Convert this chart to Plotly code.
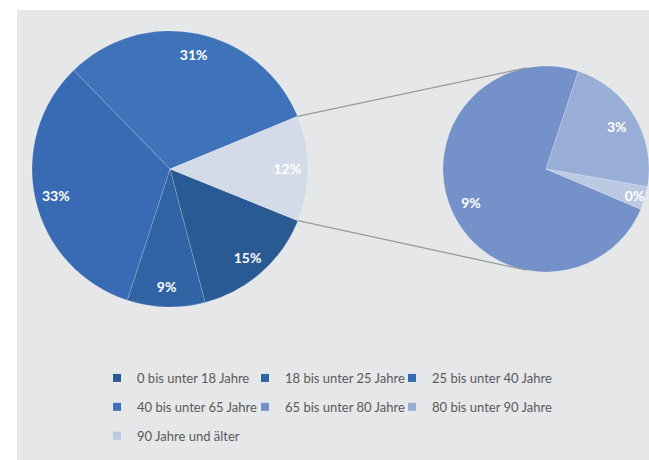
import math
import plotly.graph_objects as go

W, H = 649, 460

# data (share of population, %)
main_labels = ["0 bis unter 18 Jahre", "18 bis unter 25 Jahre",
               "25 bis unter 40 Jahre", "40 bis unter 65 Jahre"]
main_values = [14.8, 9.1, 32.7, 31.05]
sub_labels = ["65 bis unter 80 Jahre", "80 bis unter 90 Jahre", "90 Jahre und älter"]
sub_values = [9.1, 2.8, 0.45]

main_colors = ["#2A5A93", "#3064A5", "#386BB3", "#3E72B9"]
sub_colors = ["#7591C9", "#99AED7", "#BCC9E3"]
other_color = "#D3DAE8"

other_value = sum(sub_values)
total = sum(main_values) + other_value


def pct(v):
    return f"{round(v / total * 100)}%"


# pie geometry in pixels
MAIN_C, MAIN_R, MAIN_ROT = (170, 169), 138, 112
SUB_C, SUB_R, SUB_ROT = (546, 169), 103, 113
SUB_LINE_ANGLE = 11


def dom(c, r):
    return dict(x=[max(0, (c[0] - r) / W), min(1, (c[0] + r) / W)],
                y=[max(0, 1 - (c[1] + r) / H), min(1, 1 - (c[1] - r) / H)])


def point(c, r, a):
    # angle clockwise from 12 o'clock -> paper coords
    x = c[0] + r * math.sin(math.radians(a))
    y = c[1] - r * math.cos(math.radians(a))
    return x / W, 1 - y / H


fig = go.Figure()

text_font = dict(family="Lato", size=14, color="white", weight="bold")
edge = dict(color="rgba(255,255,255,0.25)", width=0.7)


def add_pie(labels, values, colors, c, r, rot, hole):
    # coloured slices
    fig.add_trace(go.Pie(
        labels=labels, values=values, textinfo="none",
        marker=dict(colors=colors, line=edge),
        sort=False, direction="clockwise", rotation=rot,
        domain=dom(c, r), showlegend=False, hoverinfo="label+percent",
    ))
    # transparent ring on top that carries the percentage labels
    fig.add_trace(go.Pie(
        labels=labels, values=values,
        text=[pct(v) for v in values],
        textinfo="text", textposition="inside", insidetextorientation="horizontal",
        textfont=text_font, hole=hole,
        marker=dict(colors=["rgba(0,0,0,0)"] * len(values), line=dict(width=0)),
        sort=False, direction="clockwise", rotation=rot,
        domain=dom(c, r), showlegend=False, hoverinfo="skip",
    ))


add_pie(main_labels + ["Sonstige"], main_values + [other_value],
        main_colors + [other_color], MAIN_C, MAIN_R, MAIN_ROT, 0.7)
add_pie(sub_labels, sub_values, sub_colors, SUB_C, SUB_R, SUB_ROT, 0.6)

# legend entries: one vertical legend per column
all_labels = main_labels + sub_labels
all_colors = main_colors + sub_colors
cols = ["legend", "legend2", "legend3"]
for i, (lab, col) in enumerate(zip(all_labels, all_colors)):
    fig.add_trace(go.Scatter(
        x=[None], y=[None], mode="markers", name=lab,
        marker=dict(symbol="square", size=8, color=col),
        legend=cols[i % 3], legendgroup=lab, hoverinfo="skip",
    ))

legend_base = dict(orientation="v", xanchor="left", yanchor="top",
                   y=1 - 363 / H, tracegroupgap=9,
                   font=dict(family="Lato", size=13, color="#595959"),
                   bgcolor="rgba(0,0,0,0)", itemwidth=30, traceorder="grouped")

# connector lines
other_deg = other_value / total * 360
m_top = point(MAIN_C, MAIN_R, MAIN_ROT - other_deg)
m_bot = point(MAIN_C, MAIN_R, MAIN_ROT)
s_top = point(SUB_C, SUB_R, -SUB_LINE_ANGLE)
s_bot = point(SUB_C, SUB_R, 180 + SUB_LINE_ANGLE)

shapes = [
    dict(type="rect", xref="paper", yref="paper", x0=0, x1=1, y0=1 - 10 / H, y1=1,
         fillcolor="white", line=dict(width=0)),
    dict(type="rect", xref="paper", yref="paper", x0=0, x1=17 / W, y0=0, y1=1,
         fillcolor="white", line=dict(width=0)),
]
for a, b in [(m_top, s_top), (m_bot, s_bot)]:
    shapes.append(dict(type="line", xref="paper", yref="paper",
                       x0=a[0], y0=a[1], x1=b[0], y1=b[1],
                       line=dict(color="#9A9A9A", width=1.3)))

fig.update_layout(
    width=W, height=H,
    margin=dict(l=0, r=0, t=0, b=0),
    paper_bgcolor="#E6E7E9", plot_bgcolor="rgba(0,0,0,0)",
    xaxis=dict(visible=False), yaxis=dict(visible=False),
    legend=dict(legend_base, x=97 / W),
    legend2=dict(legend_base, x=245 / W),
    legend3=dict(legend_base, x=392 / W),
    uniformtext=dict(minsize=14, mode="show"),
    shapes=shapes,
)

fig.write_html("out.html", config={"displayModeBar": False},
               post_script="document.body.style.margin = '0';")
